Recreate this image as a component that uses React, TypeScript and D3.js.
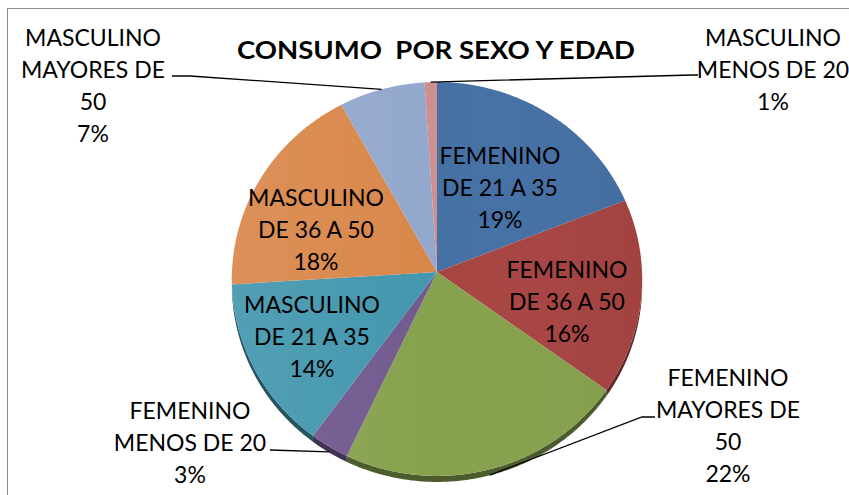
import React from "react";
import * as d3 from "d3";

const categories = [
  "FEMENINO DE 21 A 35",
  "FEMENINO DE 36 A 50",
  "FEMENINO MAYORES DE 50",
  "FEMENINO MENOS DE 20",
  "MASCULINO DE 21 A 35",
  "MASCULINO DE 36 A 50",
  "MASCULINO MAYORES DE 50",
  "MASCULINO MENOS DE 20",
];
const values = [19, 16, 22, 3, 14, 18, 7, 1];
const labelText = [
  ["FEMENINO", "DE 21 A 35"],
  ["FEMENINO", "DE 36 A 50"],
  ["FEMENINO", "MAYORES DE", "50"],
  ["FEMENINO", "MENOS DE 20"],
  ["MASCULINO", "DE 21 A 35"],
  ["MASCULINO", "DE 36 A 50"],
  ["MASCULINO", "MAYORES DE", "50"],
  ["MASCULINO", "MENOS DE 20"],
];
const colors = ["#4671A5", "#A84543", "#87A24E", "#715A8F", "#4397AE", "#D9874A", "#93A8CD", "#CD8F8F"];
const title = "CONSUMO  POR SEXO Y EDAD";

// label layout (x centre, first-line centre y, leader start points)
const labelLayout: { x: number; y: number; leader?: number[][] }[] = [
  { x: 500, y: 156 },
  { x: 567, y: 270 },
  { x: 728, y: 378, leader: [[655, 417], [642, 417]] },
  { x: 190, y: 411, leader: [[270, 450]] },
  { x: 312, y: 305 },
  { x: 316, y: 198 },
  { x: 93, y: 38, leader: [[172, 76], [190, 76]] },
  { x: 773, y: 38, leader: [[698, 75], [692, 75]] },
];

const W = 849, H = 495;
const cx = 437, cy = 272, Rx = 205, Ry = 196.7, P = 0.0355, DEPTH = 6;
const LINE_H = 31.8;
const FONT = "Lato, Carlito, Calibri, 'Open Sans', sans-serif";

function proj(theta: number, r: number): [number, number] {
  const u = r * Math.sin(theta);
  const v = -r * Math.cos(theta);
  const k = 1 / (1 - P * v);
  return [cx + Rx * u * k, cy + Ry * v * k];
}

function arcPoints(a0: number, a1: number): [number, number][] {
  const n = Math.max(2, Math.ceil((a1 - a0) / 0.01));
  return d3.range(n + 1).map((i) => proj(a0 + ((a1 - a0) * i) / n, 1));
}

export default function App() {
  const pie = d3.pie<number>().sort(null).value((d) => d)(values);
  const line = d3.line();

  const sides: JSX.Element[] = [];
  pie.forEach((s, i) => {
    const a0 = Math.max(s.startAngle, Math.PI / 2);
    const a1 = Math.min(s.endAngle, (3 * Math.PI) / 2);
    if (a1 <= a0) return;
    const top = arcPoints(a0, a1);
    const bottom = top.map(([x, y]) => [x, y + DEPTH] as [number, number]).reverse();
    const c = d3.color(colors[i])!.darker(1.6).formatHex();
    sides.push(<path key={"s" + i} d={line.curve(d3.curveLinearClosed)([...top, ...bottom]) || ""} fill={c} />);
  });

  return (
    <svg width={W} height={H} style={{ position: "absolute", left: 0, top: 0 }}>
      <defs>
        <linearGradient id="shade" x1="0" y1="0" x2="1" y2="0">
          <stop offset="0" stopColor="#fff" stopOpacity={0.08} />
          <stop offset="0.5" stopColor="#fff" stopOpacity={0} />
          <stop offset="1" stopColor="#000" stopOpacity={0.04} />
        </linearGradient>
      </defs>
      <rect x={0} y={0} width={W} height={H} fill="#fff" />
      <rect x={7.5} y={8.5} width={W + 10} height={H + 10} fill="none" stroke="#8c8c8c" strokeWidth={1} />
      {sides}
      {pie.map((s, i) => {
        const pts: [number, number][] = [[cx, cy], ...arcPoints(s.startAngle, s.endAngle)];
        return <path key={"p" + i} d={line.curve(d3.curveLinearClosed)(pts) || ""} fill={colors[i]} />;
      })}
      <path
        d={line.curve(d3.curveLinearClosed)(arcPoints(0, 2 * Math.PI)) || ""}
        fill="url(#shade)"
      />
      {pie.map((s, i) => {
        const lay = labelLayout[i];
        if (!lay.leader) return null;
        const mid = (s.startAngle + s.endAngle) / 2;
        const [ex, ey0] = proj(mid, 1);
        const v = -Math.cos(mid);
        const ey = ey0 + (v > 0 ? DEPTH * v : 0);
        const pts = [...lay.leader, [ex, ey]] as [number, number][];
        return (
          <path key={"l" + i} d={line.curve(d3.curveLinear)(pts) || ""} fill="none" stroke="#000" strokeWidth={1.3} />
        );
      })}
      {pie.map((s, i) => {
        const lay = labelLayout[i];
        const lines = [...labelText[i], Math.round((values[i] / d3.sum(values)) * 100) + "%"];
        return (
          <text key={"t" + i} fontFamily={FONT} fontSize={23} fill="#000" textAnchor="middle">
            {lines.map((t, j) => (
              <tspan key={j} x={lay.x} y={lay.y + j * LINE_H + 8.3}>
                {t}
              </tspan>
            ))}
          </text>
        );
      })}
      <text
        x={237}
        y={59}
        fontFamily={FONT}
        fontSize={25}
        fontWeight="bold"
        fill="#000"
        textLength={398}
        lengthAdjust="spacingAndGlyphs"
        style={{ whiteSpace: "pre" }}
      >
        {title}
      </text>
    </svg>
  );
}
